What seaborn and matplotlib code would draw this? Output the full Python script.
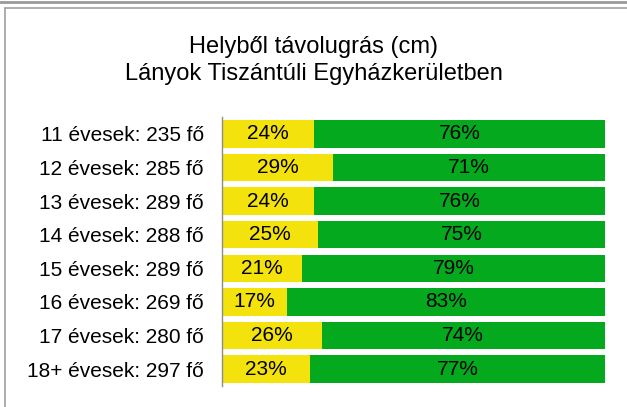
import matplotlib
matplotlib.use("Agg")
import matplotlib.pyplot as plt
from matplotlib.lines import Line2D
import seaborn as sns
import pandas as pd

# Age groups with number of girls tested
groups = ["11 évesek: 235 fő", "12 évesek: 285 fő", "13 évesek: 289 fő", "14 évesek: 288 fő",
          "15 évesek: 289 fő", "16 évesek: 269 fő", "17 évesek: 280 fő", "18+ évesek: 297 fő"]
# Share of results in the two zones (percent)
yellow_pct = [24, 29, 24, 25, 21, 17, 26, 23]
green_pct = [76, 71, 76, 75, 79, 83, 74, 77]

title = "Helyből távolugrás (cm)\nLányok Tiszántúli Egyházkerületben"

YELLOW = "#F4E20C"
GREEN = "#04A91E"

sns.set_theme(style="white")
plt.rcParams["font.family"] = ["Liberation Sans", "DejaVu Sans"]

df = pd.DataFrame({"group": groups, "yellow": yellow_pct, "green": green_pct})
df["total"] = df["yellow"] + df["green"]

fig = plt.figure(figsize=(6.27, 4.07), dpi=100)
ax = fig.add_axes([0.354, 0.0516, 0.611, 0.661])

# Green bar spans the whole row, yellow part drawn over its left side
sns.barplot(data=df, y="group", x="total", color=GREEN, orient="h", width=0.82,
            saturation=1, linewidth=0, ax=ax)
sns.barplot(data=df, y="group", x="yellow", color=YELLOW, orient="h", width=0.82,
            saturation=1, linewidth=0, ax=ax)

for i, (y_v, g_v) in enumerate(zip(df["yellow"], df["green"])):
    ax.text(y_v / 2, i, f"{y_v}%", ha="center", va="center", fontsize=15, color="black")
    ax.text(y_v + g_v / 2, i, f"{g_v}%", ha="center", va="center", fontsize=15, color="black")

ax.set_xlim(0, 100)
ax.set_ylim(len(groups) - 0.5, -0.5)
ax.set_xlabel("")
ax.set_ylabel("")
ax.set_xticks([])
ax.tick_params(axis="y", length=0, pad=13, labelsize=15, labelcolor="black")
for side in ["top", "right", "bottom"]:
    ax.spines[side].set_visible(False)
ax.spines["left"].set_color("#8c8c8c")
ax.spines["left"].set_linewidth(1.0)

fig.text(0.5, 0.852, title, ha="center", va="center", fontsize=17,
         color="black", linespacing=1.3)

# Frame lines around the chart area
fig.add_artist(Line2D([0, 1], [0.996, 0.996], transform=fig.transFigure,
                      color="#9a9a9a", linewidth=2.0))
fig.add_artist(Line2D([0.008, 1], [0.980, 0.980], transform=fig.transFigure,
                      color="#a0a0a0", linewidth=1.2))
fig.add_artist(Line2D([0.008, 0.008], [0, 0.980], transform=fig.transFigure,
                      color="#a0a0a0", linewidth=1.2))

fig.savefig("out.png", dpi=100)
